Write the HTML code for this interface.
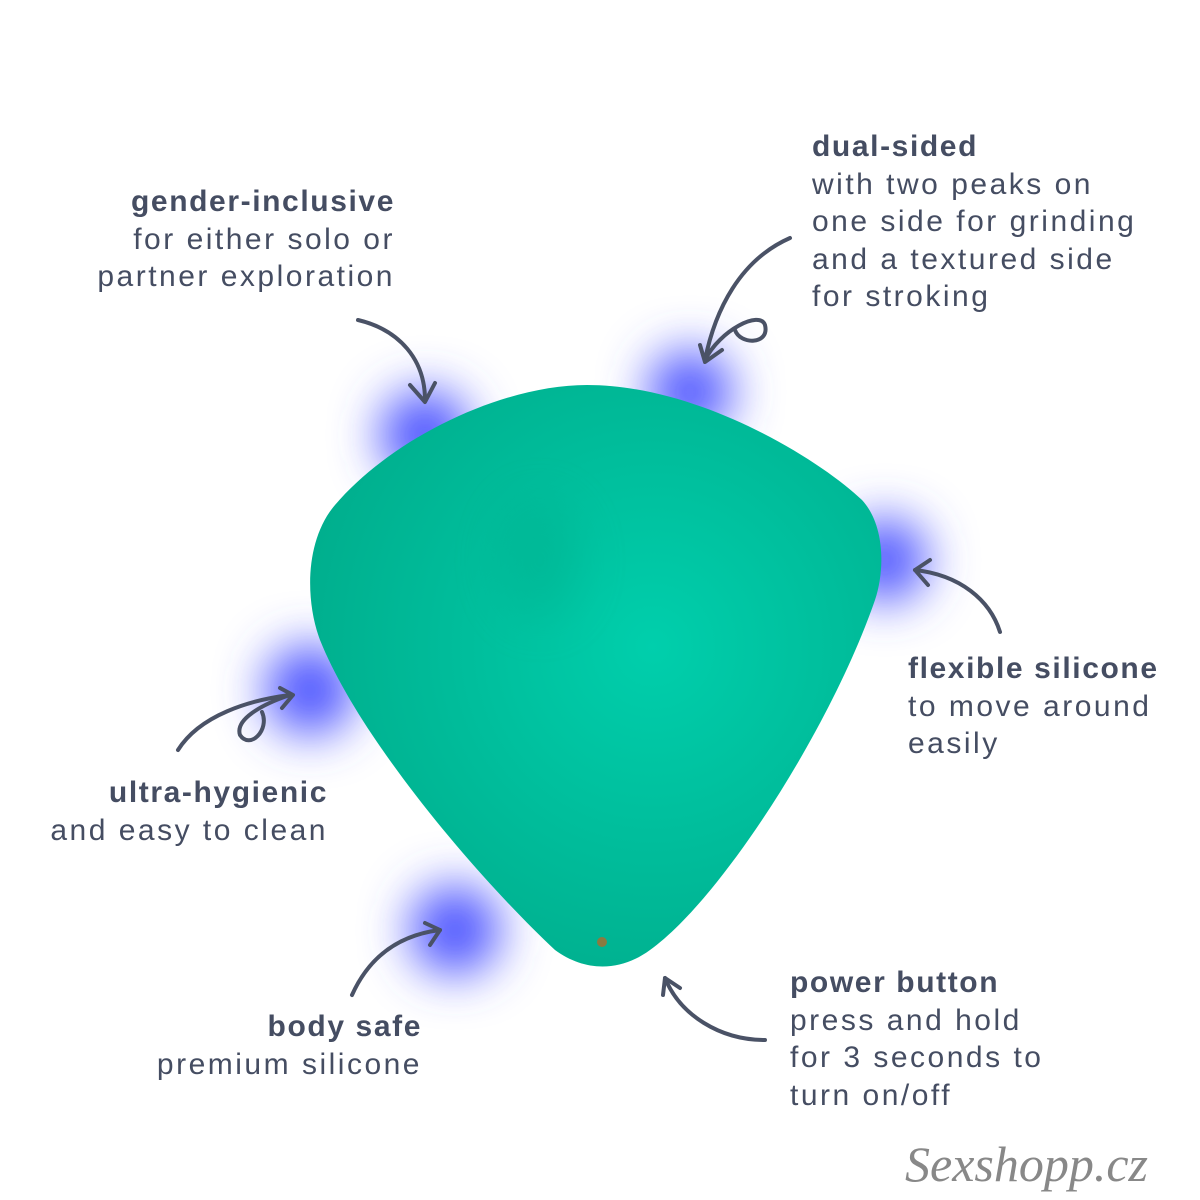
<!DOCTYPE html>
<html><head><style>
body{margin:0;width:1200px;height:1200px;background:#fff;position:relative;overflow:hidden;font-family:"Liberation Sans",sans-serif;color:#454d62}
.t{position:absolute;font-size:30px;line-height:37.5px;letter-spacing:2.5px}
.t b{font-weight:bold;letter-spacing:1.6px}
.r{text-align:right}
</style></head><body>
<svg width="1200" height="1200" style="position:absolute;left:0;top:0">
<defs>
<filter id="b" x="-100%" y="-100%" width="300%" height="300%"><feGaussianBlur stdDeviation="24"/></filter>
<radialGradient id="g" cx="60%" cy="45%" r="65%"><stop offset="0" stop-color="#00cfac"/><stop offset="1" stop-color="#00ad8c"/></radialGradient>
</defs>
<g fill="#4d55ff" filter="url(#b)">
<circle cx="425" cy="435" r="45"/>
<circle cx="690" cy="392" r="42"/>
<circle cx="885" cy="560" r="42"/>
<circle cx="310" cy="690" r="45"/>
<circle cx="455" cy="930" r="45"/>
</g>
<path d="M587 385 C700 385 820 460 862 500 C885 525 885 570 875 600 C830 730 720 900 650 950 C620 972 585 972 555 950 C480 880 360 740 320 640 C305 600 305 540 335 505 C390 440 500 385 587 385 Z" fill="url(#g)"/>
<ellipse cx="540" cy="560" rx="40" ry="60" fill="#00a080" opacity="0.25" filter="url(#b)"/>
<circle cx="602" cy="942" r="5" fill="#8a7a40"/>
<g fill="none" stroke="#4a5266" stroke-width="4" stroke-linecap="round" stroke-linejoin="round">
<path d="M358 320 C400 330 425 360 425 400"/><path d="M410 385 L425 402 L435 383"/>
<path d="M790 238 C740 260 715 310 705 360 C720 330 760 310 765 325 C770 345 740 345 735 330"/><path d="M700 345 L705 362 L722 350"/>
<path d="M1000 632 C990 600 960 575 915 570"/><path d="M930 560 L915 570 L928 585"/>
<path d="M178 750 C200 715 250 700 290 695 C260 705 235 720 240 735 C250 750 270 730 262 712"/><path d="M280 688 L293 695 L282 708"/>
<path d="M352 995 C370 955 400 935 440 930"/><path d="M425 923 L440 930 L430 945"/>
<path d="M765 1040 C720 1040 680 1015 665 978"/><path d="M663 995 L665 978 L680 988"/>
</g>
</svg>
<div class="t r" style="right:805px;top:183px"><b>gender-inclusive</b><br>for either solo or<br>partner exploration</div>
<div class="t" style="left:812px;top:128px"><b>dual-sided</b><br>with two peaks on<br>one side for grinding<br>and a textured side<br>for stroking</div>
<div class="t" style="left:908px;top:650px"><b>flexible silicone</b><br>to move around<br>easily</div>
<div class="t r" style="right:872px;top:774px"><b>ultra-hygienic</b><br>and easy to clean</div>
<div class="t r" style="right:778px;top:1008px"><b>body safe</b><br>premium silicone</div>
<div class="t" style="left:790px;top:964px"><b>power button</b><br>press and hold<br>for 3 seconds to<br>turn on/off</div>
<div style="position:absolute;left:905px;top:1135px;font-family:'Liberation Serif',serif;font-style:italic;font-size:50px;color:#888">Sexshopp.cz</div>
</body></html>
